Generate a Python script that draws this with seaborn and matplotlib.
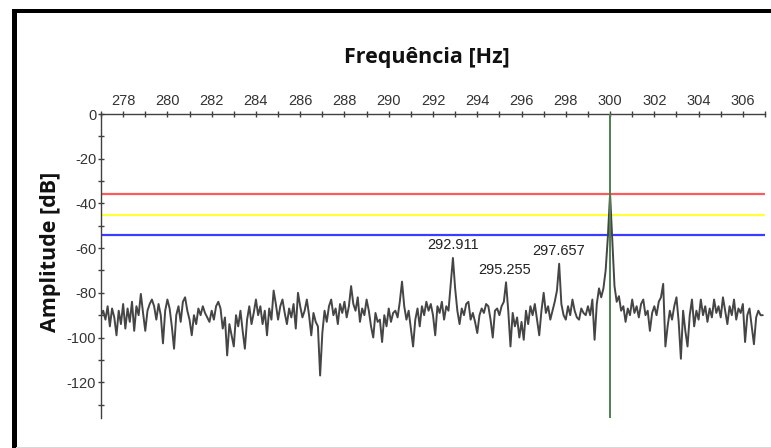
import numpy as np
import pandas as pd
import seaborn as sns
import matplotlib
matplotlib.use("Agg")
import matplotlib.pyplot as plt
from matplotlib.patches import Rectangle
from matplotlib.ticker import MultipleLocator

# ---------------- data ----------------
freq_start = 277.0
freq_step = 0.1
amp_db = [
    -90, -88, -92, -86, -95, -87, -91, -99, -88, -94,      # 277
    -85, -96, -87, -93, -84, -97, -86, -90, -80.5, -89,    # 278
    -97, -88, -85, -83, -86, -92, -85, -90, -102.6, -88,   # 279
    -83, -87, -95, -105, -90, -86, -93, -84, -82, -88,     # 280
    -92, -99, -90, -94, -87, -90, -86, -89, -91, -93,      # 281
    -88, -92, -86, -84, -87, -96, -91, -108, -94, -99,     # 282
    -104, -90, -95, -88, -97, -105, -92, -86, -94, -89,    # 283
    -83, -90, -86, -94, -88, -99, -87, -92, -79, -85,      # 284
    -92, -86, -83, -89, -94, -87, -91, -85, -96, -80,      # 285
    -86, -91, -88, -83, -90, -99, -89, -93, -95, -117,     # 286
    -98, -88, -93, -86, -83, -90, -87, -94, -85, -89,      # 287
    -84, -91, -86, -77, -85, -88, -82, -93, -87, -90,      # 288
    -83, -88, -95, -100, -89, -93, -92, -102, -90, -95,    # 289
    -87, -93, -89, -88, -91, -84, -75, -86, -92, -88,      # 290
    -96, -104, -92, -87, -95, -86, -90, -84, -88, -85,     # 291
    -90, -99, -86, -89, -84, -92, -86, -88, -76, -64.4,    # 292
    -78, -88, -94, -87, -90, -85, -84, -92, -89, -93,      # 293
    -98, -90, -87, -89, -85, -86, -92, -100, -88, -87,     # 294
    -90, -86, -84, -75.3, -88, -104, -89, -95, -91, -100,  # 295
    -93, -101, -88, -94, -86, -90, -85, -92, -99, -88,     # 296
    -80, -89, -86, -92, -88, -84, -79, -67, -85, -90,      # 297
    -92, -86, -90, -83, -88, -91, -92, -87, -89, -90,      # 298
    -86, -90, -83, -101, -85, -78, -82, -78, -70, -55,     # 299
    -35.7, -56, -77, -84, -81.5, -88, -86, -93, -87, -90,  # 300
    -83, -89, -86, -91, -85, -83, -90, -88, -97, -89,      # 301
    -86, -90, -84, -82, -76, -104, -95, -88, -92, -86,     # 302
    -82, -93, -109.5, -88, -97, -104, -90, -83, -95, -88,  # 303
    -92, -83, -90, -86, -93, -87, -91, -83, -89, -86,      # 304
    -91, -82, -88, -94, -86, -90, -83, -92, -87, -89,      # 305
    -85, -102, -90, -87, -95, -103, -91, -88, -90, -90,    # 306
]
freqs = np.round(freq_start + freq_step * np.arange(len(amp_db)), 3)

peak_freqs = [292.911, 295.255, 297.657]
peak_db = [-64.4, -75.3, -67.0]

threshold_db = [-35.7, -45.0, -54.0]
threshold_colors = ["#ff5a5a", "#ffff3c", "#3c3cff"]
marker_freq = 300.0

x_ticks = list(range(278, 307, 2))
y_ticks = [0, -20, -40, -60, -80, -100, -120]

df = pd.DataFrame({"freq": freqs, "amp": amp_db})

# ---------------- figure ----------------
W, H = 771, 448
sns.set_style("white")
plt.rcParams["font.family"] = ["Liberation Sans", "DejaVu Sans"]

fig = plt.figure(figsize=(W / 100, H / 100), dpi=100)

def px_x(x):
    return x / W

def px_y(y):
    return 1 - y / H

# frame decorations
fig.patches.append(Rectangle((px_x(12), 0), 4.5 / W, px_y(9), transform=fig.transFigure,
                             facecolor="black", edgecolor="none"))
fig.patches.append(Rectangle((px_x(12), px_y(13.5)), 1 - px_x(12), 4.5 / H, transform=fig.transFigure,
                             facecolor="black", edgecolor="none"))
fig.patches.append(Rectangle((px_x(16), px_y(448)), 1 - px_x(16), 1.5 / H, transform=fig.transFigure,
                             facecolor="#d8d8d8", edgecolor="none"))

ax = fig.add_axes([px_x(101), px_y(418), (765 - 101) / W, (418 - 114) / H])

for yv, c in zip(threshold_db, threshold_colors):
    ax.axhline(yv, color=c, lw=1.6, zorder=1)
ax.axvline(marker_freq, color="#4f7f4f", lw=1.4, zorder=3)

sns.lineplot(data=df, x="freq", y="amp", ax=ax, color="#454545", lw=1.4,
             estimator=None, sort=True, zorder=2)

for f, d in zip(peak_freqs, peak_db):
    ax.text(f, d + 2.5, f"{f:.3f}", ha="center", va="bottom", fontsize=10.5, color="#222222")

ax.set_xlim(277, 307)
ax.set_ylim(-136, 0)
ax.set_xlabel("")
ax.set_ylabel("")

ax.xaxis.tick_top()
ax.set_xticks(x_ticks)
ax.set_xticklabels([str(v) for v in x_ticks])
ax.xaxis.set_minor_locator(MultipleLocator(1))
ax.set_yticks(y_ticks)
ax.set_yticklabels([str(v) for v in y_ticks])
ax.yaxis.set_minor_locator(MultipleLocator(10))

ax.tick_params(axis="both", which="both", direction="inout", length=5, width=1.0,
               color="#404040", labelcolor="#333333", labelsize=10.5)
ax.tick_params(axis="x", which="both", top=True, bottom=False, pad=2)
ax.tick_params(axis="y", which="both", left=True, right=False, pad=1)

for s in ["bottom", "right"]:
    ax.spines[s].set_visible(False)
for s in ["top", "left"]:
    ax.spines[s].set_color("#404040")
    ax.spines[s].set_linewidth(1.0)
ax.patch.set_alpha(0)

fig.text(px_x(427), px_y(58), "Frequência [Hz]", ha="center", va="center",
         fontsize=15.5, fontweight="bold", family=["Open Sans", "DejaVu Sans"], color="#111111")
fig.text(px_x(51), px_y(252), "Amplitude [dB]", ha="center", va="center", rotation=90,
         fontsize=15.5, fontweight="bold", family=["Open Sans", "DejaVu Sans"], color="#111111")

fig.savefig("out.png", dpi=100)
